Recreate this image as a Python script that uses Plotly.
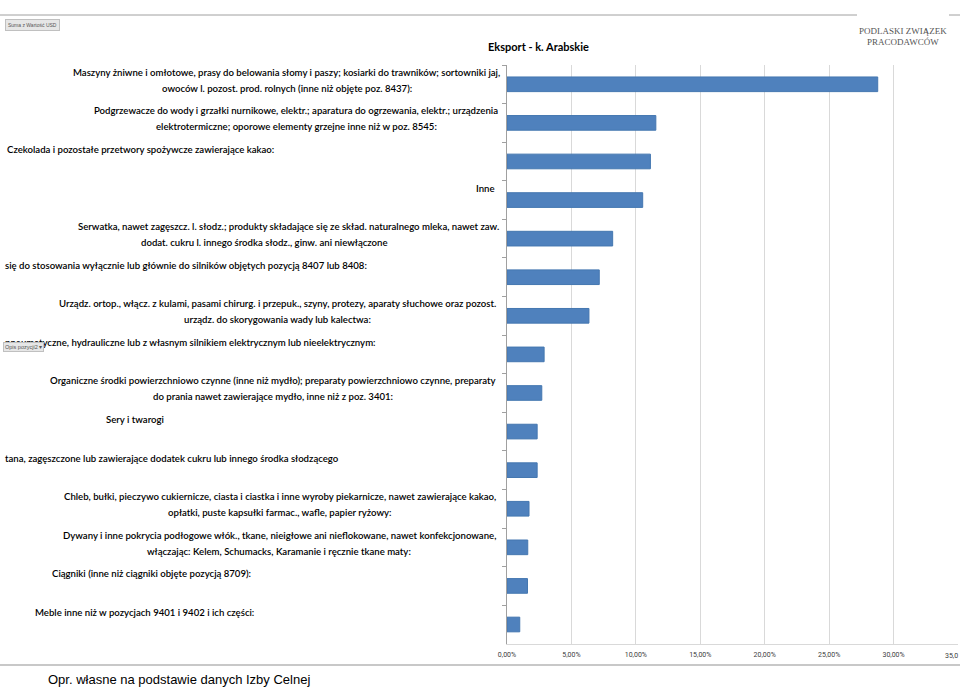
import plotly.graph_objects as go

# ---------------- data ----------------
categories = [
    "Maszyny żniwne i omłotowe, prasy do belowania słomy i paszy; kosiarki do trawników; sortowniki jaj,<br>owoców l. pozost. prod. rolnych (inne niż objęte poz. 8437):",
    "Podgrzewacze do wody i grzałki nurnikowe, elektr.; aparatura do ogrzewania, elektr.; urządzenia<br>elektrotermiczne; oporowe elementy grzejne inne niż w poz. 8545:",
    "Czekolada i pozostałe przetwory spożywcze zawierające kakao:",
    "Inne",
    "Serwatka, nawet zagęszcz. l. słodz.; produkty składające się ze skład. naturalnego mleka, nawet zaw.<br>dodat. cukru l. innego środka słodz., ginw. ani niewłączone",
    "się do stosowania wyłącznie lub głównie do silników objętych pozycją 8407 lub 8408:",
    "Urządz. ortop., włącz. z kulami, pasami chirurg. i przepuk., szyny, protezy, aparaty słuchowe oraz pozost.<br>urządz. do skorygowania wady lub kalectwa:",
    "pneumatyczne, hydrauliczne lub z własnym silnikiem elektrycznym lub nieelektrycznym:",
    "Organiczne środki powierzchniowo czynne (inne niż mydło); preparaty powierzchniowo czynne, preparaty<br>do prania nawet zawierające mydło, inne niż z poz. 3401:",
    "Sery i twarogi",
    "tana, zagęszczone lub zawierające dodatek cukru lub innego środka słodzącego",
    "Chleb, bułki, pieczywo cukiernicze, ciasta i ciastka i inne wyroby piekarnicze, nawet zawierające kakao,<br>opłatki, puste kapsułki farmac., wafle, papier ryżowy:",
    "Dywany i inne pokrycia podłogowe włók., tkane, nieigłowe ani nieflokowane, nawet konfekcjonowane,<br>włączając: Kelem, Schumacks, Karamanie i ręcznie tkane maty:",
    "Ciągniki (inne niż ciągniki objęte pozycją 8709):",
    "Meble inne niż w pozycjach 9401 i 9402 i ich części:",
]
share_pct = [28.77, 11.55, 11.13, 10.53, 8.20, 7.16, 6.36, 2.88, 2.70, 2.34, 2.34, 1.71, 1.61, 1.59, 0.99]

x_tick_values = [0, 5, 10, 15, 20, 25, 30, 35]
x_tick_labels = ["0,00%", "5,00%", "10,00%", "15,00%", "20,00%", "25,00%", "30,00%", "35,00%"]
x_edge_label = "35,0"   # last tick label, truncated by the page edge in the original

title_text = "Eksport - k. Arabskie"
source_text = "Opr. własne na podstawie danych Izby Celnej"
logo_lines = ["PODLASKI ZWIĄZEK", "PRACODAWCÓW"]
field_button_text = "Suma z Wartość USD"
row_button_text = "Opis pozycji2 ▾"

# ---------------- layout geometry (pixels) ----------------
W, H = 960, 687
PL, PR, PT, PB = 507, 958, 65, 644   # plot area


def px(xp):
    return (xp - PL) / (PR - PL)


def py(yp):
    return (PB - yp) / (PB - PT)


# label placement per category: (xanchor, pixel x per line)
label_anchor = [
    ("center", [286, 287]), ("center", [296, 296]), ("left", [5]), ("right", [497]),
    ("center", [288, 264]), ("left", [3]), ("center", [277, 277]), ("left", [3]),
    ("center", [273, 273]), ("center", [135]), ("left", [3]), ("center", [280, 280]),
    ("center", [279, 279]), ("center", [151]), ("center", [144]),
]
LINE_STEP = 16      # px between wrapped lines
FIRST_LINE_UP = 12  # first line sits this many px above the bar centre

LABEL_FONT = dict(family="Lato, Roboto, sans-serif", size=9.6, color="#000000", weight=600)
TICK_FONT = dict(family="Roboto, sans-serif", size=7, color="#404040")

fig = go.Figure()
fig.add_trace(go.Bar(
    x=share_pct,
    y=categories,
    orientation="h",
    marker=dict(color="#4F81BD", line=dict(color="#4477B0", width=1)),
    hoverinfo="x",
))

annotations = []
for cat, (anc, xs) in zip(categories, label_anchor):
    for k, line in enumerate(cat.split("<br>")):
        annotations.append(dict(
            x=px(xs[k]), xref="paper", xanchor=anc,
            y=cat, yref="y", yanchor="middle",
            yshift=FIRST_LINE_UP - LINE_STEP * k,
            text=line, showarrow=False, align="center",
            font=LABEL_FONT,
        ))

# truncated last x tick label
annotations.append(dict(
    x=px(960), xref="paper", xanchor="right",
    y=0, yref="paper", yanchor="top", yshift=-6,
    text=x_edge_label, showarrow=False, font=TICK_FONT,
))
# title
annotations.append(dict(
    x=px(486), xref="paper", xanchor="left",
    y=py(46), yref="paper", yanchor="middle",
    text="<b>" + title_text + "</b>", showarrow=False,
    font=dict(family="Lato, Roboto, sans-serif", size=11, color="#000000"),
))
# source
annotations.append(dict(
    x=px(46), xref="paper", xanchor="left",
    y=py(679), yref="paper", yanchor="middle",
    text=source_text, showarrow=False,
    font=dict(family="Liberation Sans, Arial, sans-serif", size=13, color="#000000"),
))
# logo text
for i, line in enumerate(logo_lines):
    annotations.append(dict(
        x=px(903), xref="paper", xanchor="center",
        y=py(31 + i * 11), yref="paper", yanchor="middle",
        text=line, showarrow=False,
        font=dict(family="Liberation Serif, DejaVu Serif, serif", size=9, color="#555555"),
    ))
# pivot buttons
annotations.append(dict(
    x=px(5), xref="paper", xanchor="left",
    y=py(25), yref="paper", yanchor="middle",
    text=field_button_text, showarrow=False,
    font=dict(family="Liberation Sans, Arial, sans-serif", size=5, color="#555555"),
    bgcolor="#e6e6e6", bordercolor="#c0c0c0", borderwidth=1, borderpad=2,
))
annotations.append(dict(
    x=px(3), xref="paper", xanchor="left",
    y=py(347), yref="paper", yanchor="middle",
    text=row_button_text, showarrow=False,
    font=dict(family="Liberation Sans, Arial, sans-serif", size=5.5, color="#555555"),
    bgcolor="#e6e6e6", bordercolor="#c0c0c0", borderwidth=1, borderpad=1,
))

shapes = [
    # top rule
    dict(type="line", xref="paper", yref="paper", x0=px(0), x1=px(857), y0=py(15), y1=py(15),
         line=dict(color="#a0a0a0", width=1)),
    dict(type="line", xref="paper", yref="paper", x0=px(949), x1=px(960), y0=py(15), y1=py(15),
         line=dict(color="#a0a0a0", width=1)),
    # bottom rule
    dict(type="line", xref="paper", yref="paper", x0=px(0), x1=px(960), y0=py(665), y1=py(665),
         line=dict(color="#c8c8c8", width=2)),
]

fig.update_layout(
    width=W, height=H,
    margin=dict(l=PL, r=W - PR, t=PT, b=H - PB, pad=0),
    paper_bgcolor="white", plot_bgcolor="white",
    showlegend=False,
    bargap=0.62,
    annotations=annotations,
    shapes=shapes,
    xaxis=dict(
        range=[0, 35],
        tickvals=x_tick_values, ticktext=x_tick_labels,
        showgrid=True, gridcolor="#d9d9d9", gridwidth=1,
        zeroline=False,
        showline=True, linecolor="#d9d9d9", linewidth=1,
        ticks="", tickfont=TICK_FONT, ticklabelstandoff=4,
        fixedrange=True,
    ),
    yaxis=dict(
        autorange="reversed",
        showticklabels=False,
        ticks="outside", ticklen=4, tickcolor="#a0a0a0", tickson="boundaries",
        showline=True, linecolor="#a0a0a0", linewidth=1,
        showgrid=False, zeroline=False,
        fixedrange=True,
    ),
)

fig.write_html("out.html", config={"displayModeBar": False},
               post_script="document.body.style.margin='0px';")
